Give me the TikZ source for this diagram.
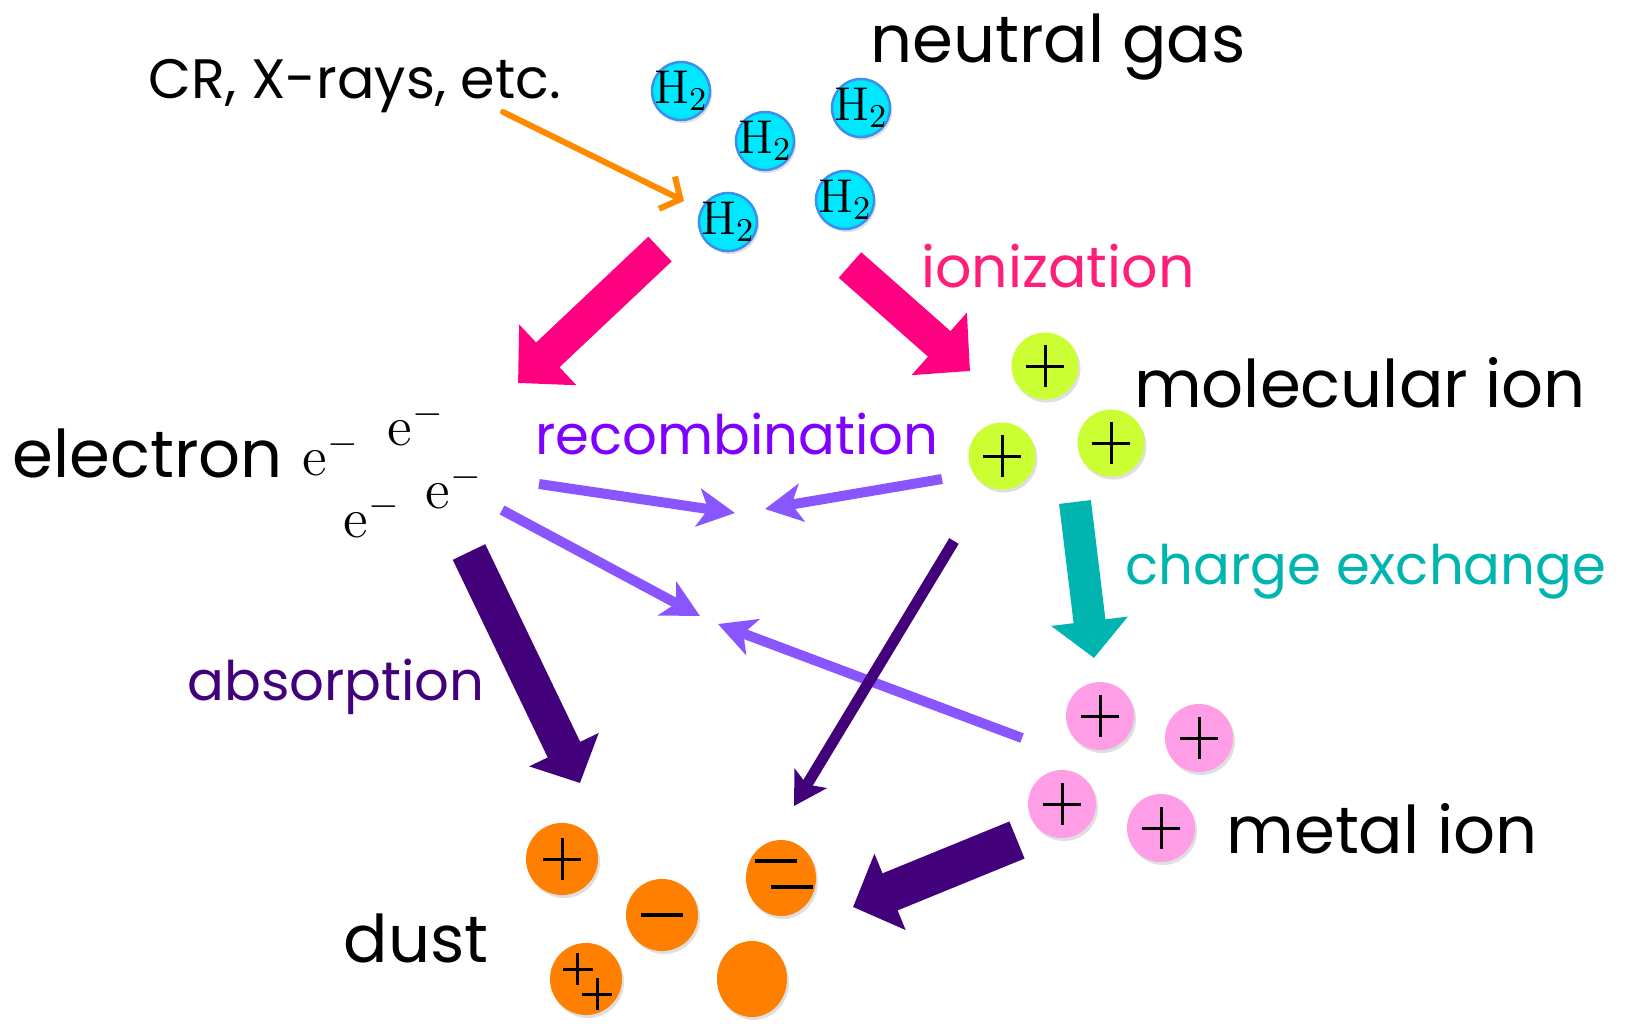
\documentclass[tikz,border=0pt]{standalone}
\usepackage{fix-cm}
\usepackage[no-math]{fontspec}
\setmainfont{Poppins}
\usetikzlibrary{arrows.meta,shadows,shapes.geometric}

\definecolor{hcyan}{HTML}{00E8FF}
\definecolor{hblue}{HTML}{3B8FEF}
\definecolor{ionpink}{HTML}{FF0080}
\definecolor{iontext}{HTML}{FF1F78}
\definecolor{molgreen}{HTML}{CCFF33}
\definecolor{metalpink}{HTML}{FF9EE6}
\definecolor{dustorange}{HTML}{FF8000}
\definecolor{recviolet}{HTML}{8855FF}
\definecolor{rectext}{HTML}{8000FF}
\definecolor{deepindigo}{HTML}{42007A}
\definecolor{chteal}{HTML}{00B5B0}
\definecolor{crorange}{HTML}{FF8A00}

\tikzset{
  plus/.pic={\draw[line width=0.03cm] (-19,0) -- (19,0) (0,-21) -- (0,21);},
  smallplus/.pic={\draw[line width=0.03cm] (-15,0) -- (15,0) (0,-16) -- (0,16);},
  minus/.pic={\draw[line width=0.035cm] (-21,0) -- (21,0);}
}

\begin{document}
\begin{tikzpicture}[x=0.01cm, y=-0.01cm,
    ball/.style={circle, inner sep=0pt, minimum size=0.58cm,
      drop shadow={shadow xshift=0.02cm, shadow yshift=-0.03cm, opacity=0.25}},
    hmol/.style={ball, fill=hcyan, draw=hblue, line width=0.025cm,
      label={[font=\fontsize{13.5}{13.5}\selectfont]center:$\mathrm{H}_2$}},
    molion/.style={ball, fill=molgreen, minimum size=0.67cm},
    metion/.style={ball, fill=metalpink, minimum size=0.68cm},
    grain/.style={ellipse, fill=dustorange, inner sep=0pt, minimum width=0.72cm, minimum height=0.72cm,
      drop shadow={shadow xshift=0.02cm, shadow yshift=-0.03cm, opacity=0.25}},
    biglabel/.style={font=\fontsize{18.7}{18.7}\selectfont, anchor=base},
    midlabel/.style={font=\fontsize{15.5}{15.5}\selectfont, anchor=base},
    elec/.style={font=\fontsize{16}{16}\selectfont, anchor=base west, inner sep=0pt},
    fatarrow/.style={line width=0.34cm, -{Triangle[length=0.41cm, width=0.81cm]}},
    thinarrow/.style={recviolet, line width=0.10cm, -{Stealth[length=0.37cm, width=0.38cm, inset=0.1cm]}},
  ]
  \useasboundingbox (0,0) rectangle (1626,1023);

  % Neutral gas: H2 molecules
  \node[biglabel] (gas) at (1058,62) {neutral gas};
  \node[hmol] (h1) at (681,91) {};
  \node[hmol] (h2) at (765,141) {};
  \node[hmol] (h3) at (861,108) {};
  \node[hmol] (h4) at (728,222) {};
  \node[hmol] (h5) at (845,200) {};

  % Cosmic rays hitting the gas
  \node[font=\fontsize{15.8}{15.8}\selectfont, anchor=base] (cr) at (355,98) {CR, X-rays, etc.};
  \coordinate (cr0) at (503,112);
  \coordinate (cr1) at (684,201);
  \draw[crorange, line width=0.06cm, line cap=round, -{Straight Barb[length=0.15cm, width=0.36cm]}] (cr0) -- (cr1);

  % Ionization
  \node[midlabel, font=\fontsize{16.2}{16.2}\selectfont, text=iontext] (ionz) at (1058,287) {ionization};
  \coordinate (ionL0) at (660,249);
  \coordinate (ionL1) at (518,383);
  \coordinate (ionR0) at (850,265);
  \coordinate (ionR1) at (970,371);
  \draw[fatarrow, ionpink] (ionL0) -- (ionL1);
  \draw[fatarrow, ionpink] (ionR0) -- (ionR1);

  % Molecular ions
  \node[biglabel] (molt) at (1360,407) {molecular ion};
  \node[molion] (m1) at (1045,366) {};
  \node[molion] (m2) at (1002,456) {};
  \node[molion] (m3) at (1111,443) {};
  \foreach \m in {m1,m2,m3} \pic at (\m) {plus};

  % Electrons
  \node[biglabel, anchor=base west, inner sep=0pt] (elt) at (12,477) {electron};
  \node[elec] (e1) at (302,475) {$\mathrm{e}^-$};
  \node[elec] (e2) at (387,445) {$\mathrm{e}^-$};
  \node[elec] (e3) at (343,537) {$\mathrm{e}^-$};
  \node[elec] (e4) at (425,508) {$\mathrm{e}^-$};

  % Recombination
  \node[midlabel, text=rectext] (rec) at (737,454) {recombination};
  \coordinate (ra0) at (539,484);
  \coordinate (ra1) at (735,513);
  \coordinate (rb0) at (942,479);
  \coordinate (rb1) at (765,509);
  \coordinate (rc0) at (502,510);
  \coordinate (rc1) at (700,616);
  \coordinate (rd0) at (1022,738);
  \coordinate (rd1) at (718,624);
  \draw[thinarrow] (ra0) -- (ra1);
  \draw[thinarrow] (rb0) -- (rb1);
  \draw[thinarrow] (rc0) -- (rc1);
  \draw[thinarrow] (rd0) -- (rd1);

  % Charge exchange
  \node[midlabel, text=chteal] (chx) at (1366,584) {charge exchange};
  \coordinate (cx0) at (1075,502);
  \coordinate (cx1) at (1094,658);
  \draw[chteal, line width=0.32cm, -{Triangle[length=0.37cm, width=0.75cm]}] (cx0) -- (cx1);

  % Metal ions
  \node[biglabel] (mett) at (1382,853) {metal ion};
  \node[metion] (p1) at (1100,716) {};
  \node[metion] (p2) at (1199,738) {};
  \node[metion] (p3) at (1062,804) {};
  \node[metion] (p4) at (1161,828) {};
  \foreach \p in {p1,p2,p3,p4} \pic at (\p) {plus};

  % Absorption onto dust
  \node[midlabel, text=deepindigo] (abs) at (336,700) {absorption};
  \coordinate (ab0) at (469,552);
  \coordinate (ab1) at (580,783);
  \draw[deepindigo, line width=0.36cm, -{Triangle[length=0.37cm, width=0.75cm]}] (ab0) -- (ab1);
  \coordinate (mi0) at (954,541);
  \coordinate (mi1) at (794,806);
  \draw[deepindigo, line width=0.11cm, -{Stealth[length=0.32cm, width=0.37cm, inset=0.07cm]}] (mi0) -- (mi1);
  \coordinate (md0) at (1017,840);
  \coordinate (md1) at (853,907);
  \draw[deepindigo, line width=0.40cm, -{Triangle[length=0.40cm, width=0.80cm]}] (md0) -- (md1);

  % Dust grains
  \node[biglabel] (dustt) at (416,962) {dust};
  \node[grain] (d1) at (562,859) {};
  \node[grain] (d2) at (662,915) {};
  \node[grain, minimum width=0.70cm, minimum height=0.76cm] (d3) at (781,878) {};
  \node[grain] (d4) at (586,979) {};
  \node[grain, minimum width=0.70cm, minimum height=0.76cm] (d5) at (752,979) {};
  \pic at (d1) {plus};
  \pic at (d2) {minus};
  \pic at ([xshift=-0.05cm, yshift=0.17cm]d3) {minus};
  \pic at ([xshift=0.11cm, yshift=-0.09cm]d3) {minus};
  \pic at ([xshift=-0.08cm, yshift=0.10cm]d4) {smallplus};
  \pic at ([xshift=0.11cm, yshift=-0.15cm]d4) {smallplus};
\end{tikzpicture}
\end{document}
